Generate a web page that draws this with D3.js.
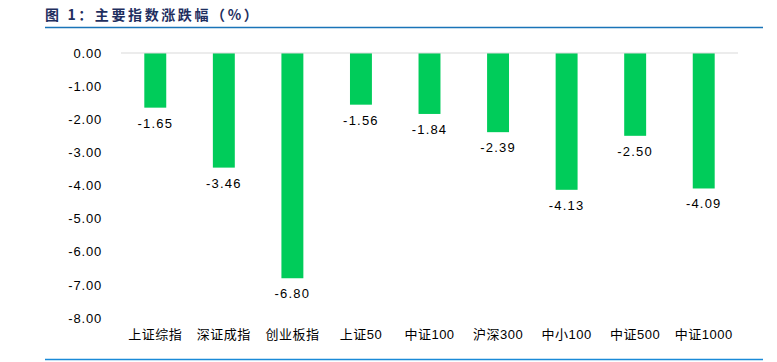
<!DOCTYPE html>
<html>
<head>
<meta charset="utf-8">
<script src="https://cdn.jsdelivr.net/npm/d3@7"></script>
<style>
  body { margin: 0; background: #fff; }
  svg { display: block; }
</style>
</head>
<body>
<div id="chart"></div>
<script>
const categories = ['上证综指', '深证成指', '创业板指', '上证50', '中证100', '沪深300', '中小100', '中证500', '中证1000'];
const changes = [-1.65, -3.46, -6.80, -1.56, -1.84, -2.39, -4.13, -2.50, -4.09];
const yTicks = [0, -1, -2, -3, -4, -5, -6, -7, -8];
const title = '图 1：主要指数涨跌幅（%）';

const W = 777, H = 362;
const margin = { top: 53, right: 39, bottom: 44, left: 121 };
const width = W - margin.left - margin.right;
const height = H - margin.top - margin.bottom;
const font = 'Arial, "Liberation Sans", "Noto Sans CJK SC", sans-serif';

const svg = d3.select('#chart')
  .append('svg')
  .attr('width', W)
  .attr('height', H);

// header
svg.append('text')
  .attr('x', 45)
  .attr('y', 20)
  .attr('fill', '#1f2f5f')
  .style('font-family', '"Noto Sans CJK SC", sans-serif')
  .style('font-size', '14px')
  .style('font-weight', 'bold')
  .style('letter-spacing', '2.6px')
  .text(title);

svg.append('line')
  .attr('x1', 45).attr('x2', 763)
  .attr('y1', 27.5).attr('y2', 27.5)
  .attr('stroke', '#1a74b8')
  .attr('stroke-width', 1.5);

svg.append('line')
  .attr('x1', 45).attr('x2', 763)
  .attr('y1', 359.5).attr('y2', 359.5)
  .attr('stroke', '#1a8ad8')
  .attr('stroke-width', 1.5);

const g = svg.append('g')
  .attr('transform', `translate(${margin.left},${margin.top})`);

const x = d3.scaleBand()
  .domain(categories)
  .range([0, width])
  .paddingInner(0.68)
  .paddingOuter(0.34);

const y = d3.scaleLinear()
  .domain([0, -8])
  .range([0, height]);

// 数字格式：两位小数，句点后稍留空隙
const fmt = d => d3.format('.2f')(d).replace('−', '-');

// y axis labels
const yAxis = g.append('g')
  .call(d3.axisLeft(y).tickValues(yTicks).tickSize(0).tickPadding(19).tickFormat(fmt));
yAxis.select('.domain').remove();
yAxis.selectAll('text')
  .style('font-family', font)
  .style('font-size', '13px')
  .style('letter-spacing', '0.8px')
  .attr('fill', '#000');

// bars
g.selectAll('.bar')
  .data(changes)
  .enter()
  .append('rect')
  .attr('class', 'bar')
  .attr('x', (d, i) => x(categories[i]))
  .attr('y', y(0))
  .attr('width', x.bandwidth())
  .attr('height', d => y(d) - y(0))
  .attr('fill', '#00cc5a');

// zero line
g.append('line')
  .attr('x1', 0).attr('x2', width)
  .attr('y1', y(0)).attr('y2', y(0))
  .attr('stroke', '#d9d9d9')
  .attr('stroke-width', 1);

// value labels
g.selectAll('.val')
  .data(changes)
  .enter()
  .append('text')
  .attr('class', 'val')
  .attr('x', (d, i) => x(categories[i]) + x.bandwidth() / 2)
  .attr('y', d => y(d) + 20)
  .attr('text-anchor', 'middle')
  .style('font-family', font)
  .style('font-size', '13px')
  .style('letter-spacing', '1.2px')
  .attr('fill', '#000')
  .text(fmt);

// category labels
g.append('g')
  .attr('transform', `translate(0,${height})`)
  .call(d3.axisBottom(x).tickSize(0).tickPadding(12))
  .call(a => a.select('.domain').remove())
  .selectAll('text')
  .style('font-family', font)
  .style('font-size', '13px')
  .style('letter-spacing', '0.5px')
  .attr('fill', '#000');
</script>
</body>
</html>
